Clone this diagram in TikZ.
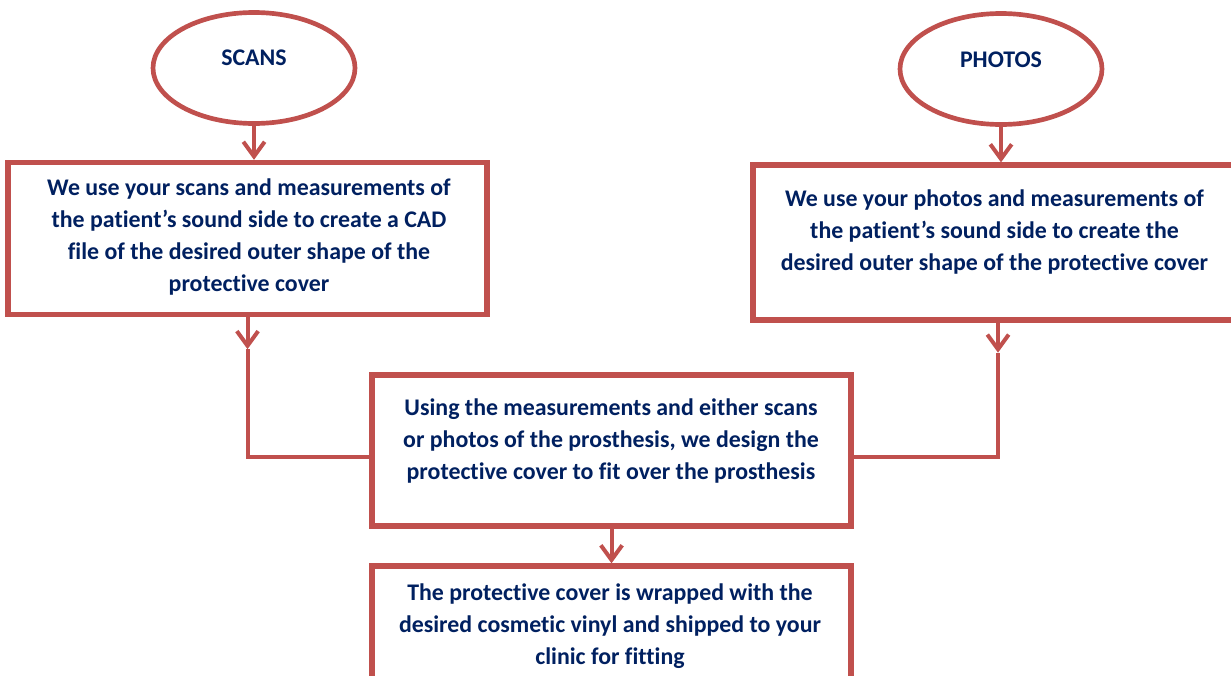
\documentclass[tikz,border=0pt]{standalone}
\usepackage{fontspec}
\setmainfont{Carlito}[Ligatures=NoCommon]
\usetikzlibrary{arrows.meta,shapes.geometric}
\definecolor{boxred}{RGB}{192,80,77}
\definecolor{inknavy}{RGB}{0,32,96}
\tikzset{
  stepframe/.style={draw=boxred,line width=4pt,fill=white,minimum width=359.25pt,minimum height=114pt,inner sep=0pt},
  sourceoval/.style={ellipse,draw=boxred,line width=3.5pt,fill=white,minimum width=151.5pt,minimum height=83.25pt,inner sep=0pt},
  steptext/.style={text=inknavy,font=\bfseries\fontsize{17.9}{24}\selectfont,align=center,inner sep=0pt},
  link/.style={draw=boxred,line width=3pt},
  flowtip/.style={-{Straight Barb[length=11pt,width=16pt]}}
}

\begin{document}
\begin{tikzpicture}[x=0.75pt,y=0.75pt,yscale=-1,xscale=1]
	\clip (0,0) rectangle (1231,675);
	% sources
	\node[sourceoval] (scans) at (254,68) {};
	\node[steptext] (scanslbl) at (254,58) {SCANS};
	\node[sourceoval] (photos) at (1001,69) {};
	\node[steptext] (photoslbl) at (1001,60) {PHOTOS};
	% steps
	\node[stepframe] (cadstep) at (247.5,238.5) {};
	\node[steptext] (cadtxt) at (249,237) {We use your scans and measurements of\\the patient’s sound side to create a CAD\\file of the desired outer shape of the\\protective cover};
	\node[stepframe,minimum width=367.5pt,minimum height=116.25pt] (shapestep) at (998,242.5) {};
	\node[steptext] (shapetxt) at (994.5,232) {We use your photos and measurements of\\the patient’s sound side to create the\\desired outer shape of the protective cover};
	\node[stepframe,minimum height=113.25pt] (designstep) at (611.5,450.5) {};
	\node[steptext] (designtxt) at (611,441) {Using the measurements and either scans\\or photos of the prosthesis, we design the\\protective cover to fit over the prosthesis};
	\node[stepframe,minimum height=113.25pt] (wrapstep) at (611.5,641.5) {};
	\node[steptext] (wraptxt) at (610,626) {The protective cover is wrapped with the\\desired cosmetic vinyl and shipped to your\\clinic for fitting};
	% links
	\draw[link,flowtip] (scans.south) -- (scans.south |- cadstep.north);
	\draw[link,flowtip] (photos.south) -- (photos.south |- shapestep.north);
	\draw[link,flowtip] (cadstep.south) -- ++(0,32) coordinate (cadmid);
	\draw[link] (cadmid) |- ([yshift=4.5pt]designstep.west);
	\draw[link,flowtip] (shapestep.south) -- ++(0,30) coordinate (shapemid);
	\draw[link] (shapemid) |- ([yshift=4.5pt]designstep.east);
	\draw[link,flowtip] (designstep.south) -- (wrapstep.north);
\end{tikzpicture}
\end{document}
